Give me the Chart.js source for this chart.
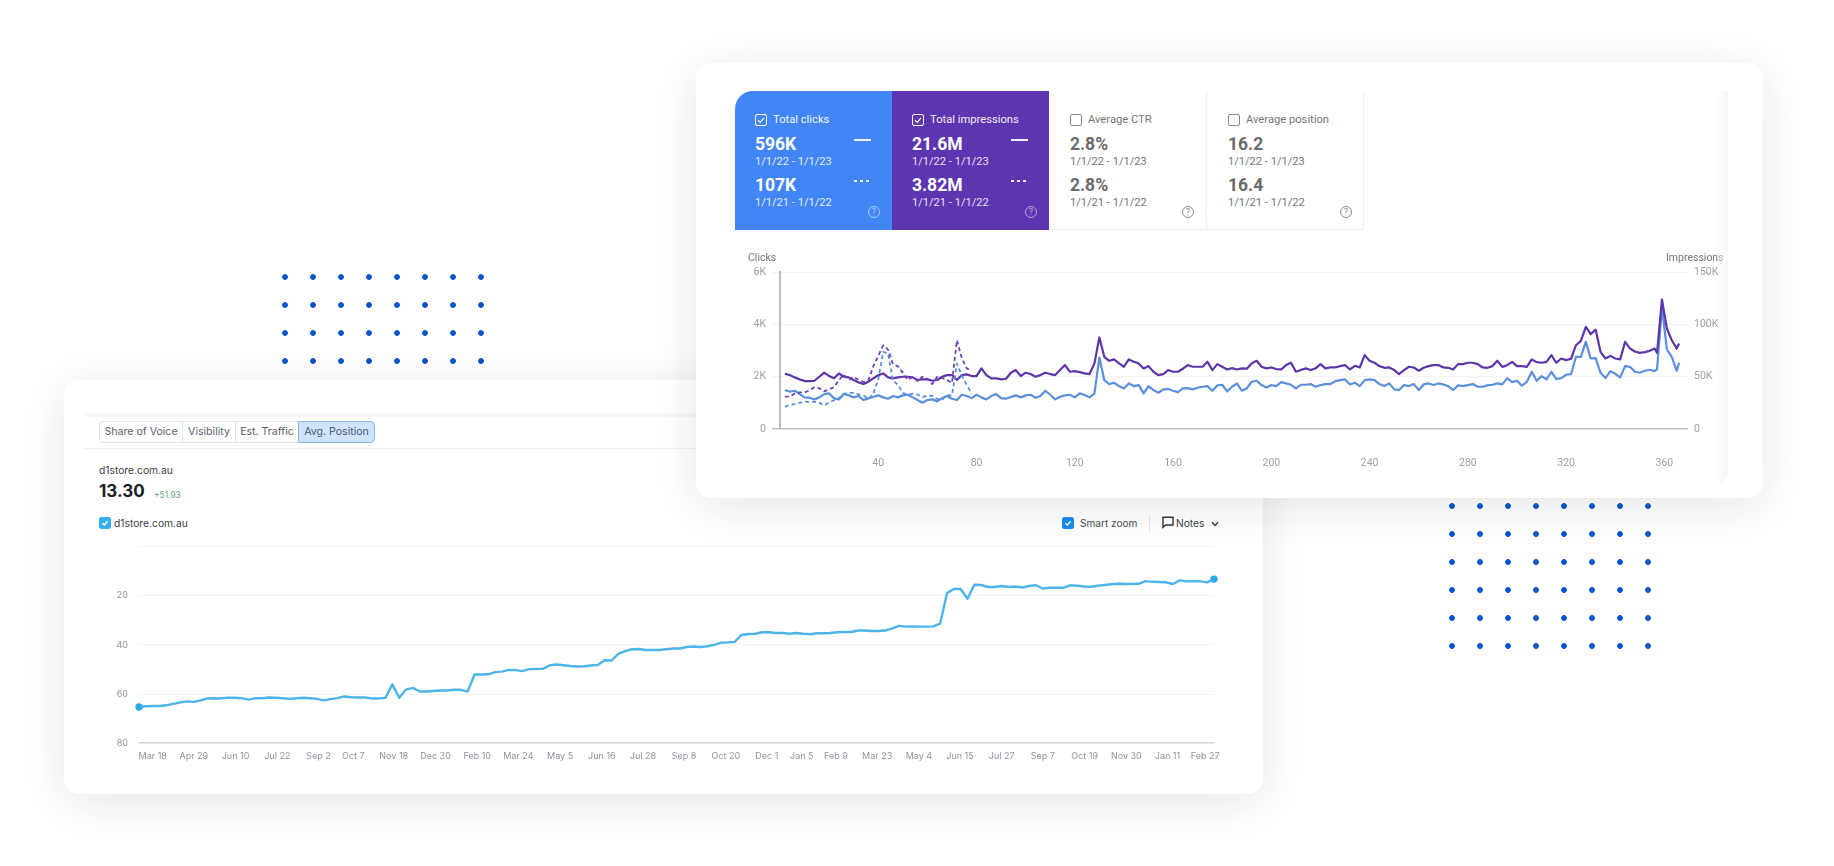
<!DOCTYPE html>
<html>
<head>
<meta charset="utf-8">
<title>Search performance</title>
<script src="https://cdn.jsdelivr.net/npm/chart.js@4/dist/chart.umd.min.js"></script>
<style>
  html, body { margin: 0; width: 1834px; height: 866px; background: #fff; overflow: hidden; }
  .abs, .abs * { box-sizing: border-box; }
  .abs { position: absolute; white-space: nowrap; }
  canvas { position: absolute; display: block; }
  .dots { background-image: radial-gradient(circle at center, #0a55cc 2.5px, rgba(10,85,204,0) 3.2px); background-size: 28px 28px; }
  .card { background: #fff; border-radius: 15px; box-shadow: 0 8px 46px rgba(30,30,40,.11); }
  #gsc { font-family: Roboto, sans-serif; }
  #rank { font-family: Inter, sans-serif; }
  .help { width: 12px; height: 12px; border-radius: 50%; border: 1px solid; font-size: 9px; line-height: 10px; text-align: center; }
  .tab { top: 41px; height: 22px; font-size: 10.6px; line-height: 20px; text-align: center; color: #5c626b; border: 1px solid #dfe2e6; }
</style>
</head>
<body>
<div class="abs dots" style="left:271px;top:263px;width:224px;height:112px"></div>
<div class="abs dots" style="left:1438px;top:492px;width:224px;height:168px"></div>

<div id="rank" class="abs card" style="left:64px;top:380px;width:1199px;height:414px"></div>
<div id="gsc" class="abs card" style="left:696px;top:63px;width:1067px;height:435px"></div>

<script>
// Search Console chart, every second day
const clicksThisYear = [
  1491,1427,1465,1338,1211,1198,1134,1211,1338,1363,1172,1134,1338,1287,1211,1262,1109,1172,1236,1287,1211,1160,1262,
  1211,1287,1312,1211,1109,1007,1109,1134,1058,1185,1262,1160,1109,1312,1262,1185,1312,1211,1134,1262,1338,1185,1160,
  1223,1287,1211,1287,1312,1198,1262,1465,1312,1134,1236,1287,1312,1211,1363,1300,1211,1363,2738,1873,1720,1771,1643,
  1554,1745,1643,1682,1363,1643,1491,1389,1516,1529,1465,1414,1554,1567,1516,1580,1618,1643,1465,1669,1694,1440,1618,1745,
  1465,1554,1809,1847,1682,1592,1682,1643,1796,1745,1694,1554,1694,1694,1720,1618,1682,1720,1720,1834,1873,1898,1707,
  1771,1643,1873,1898,1873,1720,1643,1745,1516,1491,1682,1643,1720,1491,1707,1745,1682,1745,1707,1643,1491,1669,1643,1682,
  1720,1618,1618,1669,1695,1746,1707,1949,1796,1847,1657,1809,2191,1847,2026,1898,2191,1911,1949,2077,
  2102,2764,2764,3337,2700,2713,2153,1949,2217,2115,1975,2408,2382,2191,2153,2229,2267,2217,2280,4674,3044,2764,2229,2535
];
const impressionsThisYear = [
  52.9,51.6,49.4,47.5,45.9,45.9,46.2,50,53.9,50.7,48.5,53.2,50,49.4,46.9,44.6,43,45.3,48.5,51.6,53.2,49.4,48.5,
  49.4,50,50,49.4,46.9,47.5,47.5,46.2,46.9,50,51.6,51.6,46.9,51.6,52.3,50.7,50.7,58,51.6,48.5,48.5,47.5,48.1,
  53.9,56.4,50.7,53.9,52.6,50,51.6,53.9,52.6,51.6,56.4,61.2,54.8,55.4,54.5,53.2,52.6,62.8,87.6,69.1,65.3,66.6,62.8,
  59.6,66.6,64.4,62.8,58,60.2,54.8,51.6,52.6,56.4,54.8,54.8,57.7,61.2,59.6,59.6,59.6,64.4,56.4,62.1,59.6,57,58.3,57,
  58,57.7,62.8,65.3,59.6,58,58.9,57.4,57,61.2,63.4,54.8,56.4,58,56.4,58,62.1,58,58.9,58.9,60.2,61.2,57,60.5,
  58.9,70.7,65.3,63.4,60.2,58.6,58.9,56.4,52.6,56.4,59.6,58.9,55.8,58.6,60.2,61.2,61.2,58.9,58.6,57,62.1,62.1,63.4,
  63.4,62.1,58.9,58.6,60.2,65.3,59.5,61.1,64.3,60.2,60.2,59.5,66.6,64,63.4,64.3,70.7,63.4,67.5,65.9,
  67.2,80.2,84.4,97.8,90.8,95.2,73.9,67.5,70,67.5,66.6,83.4,77,74.2,72.9,73.6,74.8,77,72.9,123.9,96.2,85,77,81.8
];
const clicksLastYear = [
  850,930,950,1000,1050,1030,1050,1000,900,1020,1100,1180,1350,1380,1380,1330,1280,1150,1350,1900,
  2950,2900,1850,1700,1380,1320,1350,1320,1220,1280,1270,1150,1120,1300,1280,2500,2050,1700,1350
];
const impressionsLastYear = [
  31,31,34,35,35,37,40,39,36,38,40,47,52,47,50,47,45,47,60,70,
  80,76,62,60,54,47,50,46,50,48,43,50,49,47,44,85,68,58,56
];
const dayTicks = [40,80,120,160,200,240,280,320,360];
const clickTicks = [0,2000,4000,6000];
const impressionTicks = [0,50,100,150];

// Rank tracker chart
const avgPosition = [
  65.3,65,64.9,64.9,64.6,64,63.4,63,63.2,62.6,61.8,61.7,61.8,61.5,61.5,61.7,62.3,61.7,61.7,61.4,61.5,61.7,62,61.7,61.5,
  61.7,62,62.6,62.1,61.7,61,61.3,61.4,61.4,61.8,61.8,61.5,56.1,61.5,58.2,57.5,59,59,58.8,58.6,58.6,58.3,58.3,59,52.1,
  52.1,52,51.1,50.9,50.2,50.3,50.7,49.9,49.8,49.8,48.3,48,48.3,48.6,48.8,48.7,48.4,48.2,46.3,46.4,43.7,42.6,41.8,41.7,42.1,
  42.1,42.1,41.8,41.5,41.5,40.9,40.7,40.9,40.6,40,39.1,39,38.8,36,35.6,35.5,34.9,34.9,35.2,35.2,
  35.5,35.2,35.5,35.7,35.3,35.3,35.2,34.9,34.8,34.8,34.2,34.2,34.4,34.4,34.2,33.3,32.3,32.6,32.5,32.6,
  32.6,32.5,31.4,19,17.3,17.3,21.3,15.6,15.7,16.5,16.5,16.1,16.5,16.3,16.7,16.1,15.8,17.1,16.8,16.8,
  16.8,15.8,16,16.3,16.4,16,15.7,15.4,15.2,15.3,15.3,15.2,14.1,14.4,14.5,14.6,15.3,13.8,14.2,14.1,14.2,14.6,13.3
];
const rankLabels = ['Mar 18','Apr 29','Jun 10','Jul 22','Sep 2','Oct 7','Nov 18','Dec 30','Feb 10','Mar 24','May 5','Jun 16','Jul 28','Sep 8',
  'Oct 20','Dec 1','Jan 5','Feb 9','Mar 23','May 4','Jun 15','Jul 27','Sep 7','Oct 19','Nov 30','Jan 11','Feb 27'];
const rankTickSteps = [2,8,14.1,20.2,26.2,31.3,37.2,43.3,49.4,55.4,61.5,67.6,73.6,79.6,85.7,91.7,96.8,101.8,107.8,113.9,119.9,126,132,138.1,144.2,150.2,155.7];
const rankTicks = [0,20,40,60,80];

const tileNames = ['Total clicks','Total impressions','Average CTR','Average position'];
const tileThisYear = ['596K','21.6M','2.8%','16.2'];
const tileLastYear = ['107K','3.82M','2.8%','16.4'];
const rangeThisYear = '1/1/22 - 1/1/23';
const rangeLastYear = '1/1/21 - 1/1/22';

function add(parent, css, text) {
  const el = document.createElement('div');
  el.className = 'abs';
  el.style.cssText = css;
  if (text !== undefined) el.textContent = text;
  parent.appendChild(el);
  return el;
}

// positions below are page pixels, so shift them by the card corner
const gsc = document.getElementById('gsc');
const gx = x => x - 696, gy = y => y - 63;
const tileLeft = [735, 892, 1049, 1207];
const tileWidth = [157, 157, 158, 157];
const tileBg = ['#4285f4', '#5e35b1', '#fff', '#fff'];

tileNames.forEach((name, i) => {
  const on = i < 2;
  const fg = on ? '#fff' : '#757575';
  const L = tileLeft[i];
  const box = `left:${gx(L)}px;top:${gy(91)}px;width:${tileWidth[i]}px;height:139px;background:${tileBg[i]};`;
  add(gsc, box + (i === 0 ? 'border-top-left-radius:18px;' : '') + (on ? '' : 'border-right:1px solid #eee;border-bottom:1px solid #eee;'));
  const tx = L + (on ? 20 : 21);
  const cb = add(gsc, `left:${gx(tx)}px;top:${gy(114)}px;width:12px;height:12px;border:1px solid ${on ? '#fff' : '#8a8a8a'};border-radius:2px;`);
  if (on) cb.innerHTML = '<svg width="10" height="10" viewBox="0 0 10 10" style="display:block"><path d="M2 5.2 L4.2 7.4 L8 2.8" fill="none" stroke="#fff" stroke-width="1.1"/></svg>';
  add(gsc, `left:${gx(tx + 18)}px;top:${gy(113)}px;font-size:11.2px;line-height:14px;color:${on ? '#fff' : '#757575'};opacity:${on ? .92 : 1}`, name);
  add(gsc, `left:${gx(tx)}px;top:${gy(134)}px;font-size:17.5px;line-height:20px;font-weight:700;color:${on ? '#fff' : '#6a6a6a'}`, tileThisYear[i]);
  add(gsc, `left:${gx(tx)}px;top:${gy(155)}px;font-size:11.1px;line-height:14px;color:${fg};opacity:${on ? .85 : 1}`, rangeThisYear);
  add(gsc, `left:${gx(tx)}px;top:${gy(175)}px;font-size:17.5px;line-height:20px;font-weight:700;color:${on ? '#fff' : '#6a6a6a'}`, tileLastYear[i]);
  add(gsc, `left:${gx(tx)}px;top:${gy(196)}px;font-size:11.1px;line-height:14px;color:${fg};opacity:${on ? .85 : 1}`, rangeLastYear);
  if (on) {
    add(gsc, `left:${gx(L + 119)}px;top:${gy(139)}px;width:17px;height:2px;background:#fff;opacity:.9`);
    add(gsc, `left:${gx(L + 119)}px;top:${gy(180)}px;width:17px;height:2px;background-image:linear-gradient(to right,#fff 3px,transparent 3px);background-size:6px 2px;opacity:.9`);
  }
  const h = add(gsc, `left:${gx(L + 133)}px;top:${gy(206)}px;color:${on ? 'rgba(255,255,255,.55)' : '#8a8a8a'}`, '?');
  h.classList.add('help');
});

add(gsc, `left:${gx(748)}px;top:${gy(251)}px;font-size:10.5px;line-height:14px;color:#757575`, 'Clicks');
add(gsc, `left:${gx(1666)}px;top:${gy(251)}px;font-size:10.5px;line-height:14px;color:#757575`, 'Impressions');
// soft right edge of the inner panel
add(gsc, `left:${gx(1690)}px;top:${gy(91)}px;width:38px;height:396px;border-bottom-right-radius:16px;background:linear-gradient(to right,rgba(240,241,243,0) 70%,#f4f5f6 100%);`);

// y axis labels reserve half their height plus tick padding above the plot, so the canvas starts higher
const gscCanvas = document.createElement('canvas');
gscCanvas.width = 998; gscCanvas.height = 215;
gscCanvas.style.left = gx(730) + 'px'; gscCanvas.style.top = gy(260) + 'px';
gsc.appendChild(gscCanvas);

// last week of the year is sampled on odd days so the spike lands in the right place
const sampleDay = i => Math.min(i < 178 ? 2 * i + 2 : 2 * i + 1, 366);
const toPoints = arr => arr.map((v, i) => ({ x: sampleDay(i), y: v }));

const GREY = '#9e9e9e';
const smallFont = { family: 'Roboto', size: 10.5 };

new Chart(gscCanvas, {
  type: 'line',
  data: {
    datasets: [
      { label: 'Impressions 1/1/21 - 1/1/22', yAxisID: 'y2', data: toPoints(impressionsLastYear), borderColor: '#6a42b4', borderWidth: 1.8, borderDash: [4, 3], borderJoinStyle: 'round', pointRadius: 0, tension: 0 },
      { label: 'Clicks 1/1/21 - 1/1/22', yAxisID: 'y', data: toPoints(clicksLastYear), borderColor: '#5b8fdc', borderWidth: 1.8, borderDash: [4, 3], borderJoinStyle: 'round', pointRadius: 0, tension: 0 },
      { label: 'Impressions 1/1/22 - 1/1/23', yAxisID: 'y2', data: toPoints(impressionsThisYear), borderColor: '#5e35a8', borderWidth: 2.2, borderJoinStyle: 'round', pointRadius: 0, tension: 0 },
      { label: 'Clicks 1/1/22 - 1/1/23', yAxisID: 'y', data: toPoints(clicksThisYear), borderColor: '#5b8fdc', borderWidth: 2.2, borderJoinStyle: 'round', pointRadius: 0, tension: 0 }
    ]
  },
  options: {
    responsive: false,
    animation: false,
    plugins: { legend: { display: false }, tooltip: { enabled: false } },
    scales: {
      x: {
        type: 'linear', min: 0, max: 369.6,
        afterBuildTicks: s => { s.ticks = dayTicks.map(v => ({ value: v })); },
        afterFit: s => { s.height = 46; },
        grid: { display: false },
        border: { display: false },
        ticks: { color: GREY, font: smallFont, padding: 20.5, maxRotation: 0, autoSkip: false }
      },
      y: {
        position: 'left', min: 0, max: 6000,
        afterBuildTicks: s => { s.ticks = clickTicks.map(v => ({ value: v })); },
        afterFit: s => { s.width = 50; },
        grid: {
          color: c => c.tick && c.tick.value === 0 ? '#bdbdbd' : '#f3f3f3',
          lineWidth: c => c.tick && c.tick.value === 0 ? 1.5 : 1,
          tickLength: 8,
          tickColor: c => c.tick && c.tick.value === 0 ? '#bdbdbd' : '#f3f3f3'
        },
        border: { color: '#bdbdbd', width: 2 },
        ticks: { color: GREY, font: smallFont, padding: 6, callback: v => v ? v / 1000 + 'K' : '0' }
      },
      y2: {
        position: 'right', min: 0, max: 150,
        afterBuildTicks: s => { s.ticks = impressionTicks.map(v => ({ value: v })); },
        afterFit: s => { s.width = 40; },
        grid: { drawOnChartArea: false, drawTicks: false },
        border: { display: false },
        ticks: { color: GREY, font: smallFont, padding: 6, callback: v => v ? v + 'K' : '0' }
      }
    }
  }
});

// lower card
const rank = document.getElementById('rank');
const rx = x => x - 64, ry = y => y - 380;
add(rank, `left:${rx(84)}px;top:${ry(413)}px;width:1179px;height:4px;background:#f6f7f8`);
add(rank, `left:${rx(84)}px;top:${ry(448)}px;width:1179px;height:1px;background:#f1f2f4`);

const tabNames = ['Share of Voice', 'Visibility', 'Est. Traffic', 'Avg. Position'];
const tabLeft = [99, 182, 235, 298];
const tabRight = [182, 235, 298, 374];
tabNames.forEach((name, i) => {
  const active = i === 3;
  add(rank, `left:${rx(tabLeft[i])}px;width:${tabRight[i] - tabLeft[i] + 1}px;` +
    (i === 0 ? 'border-radius:4px 0 0 4px;' : '') + (active ? 'background:#cfe4fb;border-color:#8fb6de;border-radius:0 4px 4px 0;color:#3f5d7d;' : ''), name).classList.add('tab');
});

add(rank, `left:${rx(99)}px;top:${ry(463)}px;font-size:10.3px;line-height:14px;color:#3d4148`, 'd1store.com.au');
add(rank, `left:${rx(99)}px;top:${ry(481)}px;font-size:17px;line-height:21px;font-weight:700;color:#1b1e23`, '13.30');
add(rank, `left:${rx(154)}px;top:${ry(489)}px;font-size:8.4px;line-height:12px;color:#5aa77c`, '+51.93');

function tick(left, top, bg) {
  const b = add(rank, `left:${rx(left)}px;top:${ry(top)}px;width:11.5px;height:11.5px;border-radius:2.5px;background:${bg}`);
  b.innerHTML = '<svg width="12" height="12" viewBox="0 0 12 12" style="display:block"><path d="M3.4 6.2 L5.3 8 L8.6 4.2" fill="none" stroke="#fff" stroke-width="1.3"/></svg>';
}
tick(99, 517, '#35b0ee');
add(rank, `left:${rx(114)}px;top:${ry(516)}px;font-size:10.3px;line-height:14px;color:#3d4148`, 'd1store.com.au');
tick(1062, 517, '#1a8cf0');
add(rank, `left:${rx(1080)}px;top:${ry(516)}px;font-size:10.1px;line-height:14px;color:#4a4f57`, 'Smart zoom');
add(rank, `left:${rx(1149)}px;top:${ry(516)}px;width:1px;height:16px;background:#e4e5e7`);
const noteIcon = add(rank, `left:${rx(1162)}px;top:${ry(516)}px;width:12px;height:13px`);
noteIcon.innerHTML = '<svg width="12" height="13" viewBox="0 0 12 13" style="display:block"><path d="M1 1.2 H11 V9 H3.4 L1 11.4 Z" fill="none" stroke="#33373d" stroke-width="1.4"/></svg>';
add(rank, `left:${rx(1176)}px;top:${ry(516)}px;font-size:10.2px;line-height:14px;color:#3d4148`, 'Notes');
const chevron = add(rank, `left:${rx(1211)}px;top:${ry(521)}px;width:8px;height:6px`);
chevron.innerHTML = '<svg width="8" height="6" viewBox="0 0 8 6" style="display:block"><path d="M1 1.2 L4 4.4 L7 1.2" fill="none" stroke="#33373d" stroke-width="1.4"/></svg>';

const rankCanvas = document.createElement('canvas');
rankCanvas.width = 1141; rankCanvas.height = 244;
rankCanvas.style.left = rx(89) + 'px'; rankCanvas.style.top = ry(530) + 'px';
rank.appendChild(rankCanvas);

const rankFont = { family: 'Inter', size: 9 };
const lastStep = avgPosition.length - 1;

new Chart(rankCanvas, {
  type: 'line',
  data: {
    datasets: [{
      label: 'd1store.com.au',
      data: avgPosition.map((v, i) => ({ x: i, y: v })),
      borderColor: '#4db4e8',
      borderWidth: 2.4,
      borderJoinStyle: 'round',
      tension: 0,
      clip: false,
      pointBackgroundColor: '#2fa9ee',
      pointBorderWidth: 0,
      pointRadius: c => (c.dataIndex === 0 || c.dataIndex === lastStep) ? 3.7 : 0
    }]
  },
  options: {
    responsive: false,
    animation: false,
    layout: { padding: { top: 16, right: 16 } },
    plugins: { legend: { display: false }, tooltip: { enabled: false } },
    scales: {
      x: {
        type: 'linear', min: 0, max: lastStep,
        afterBuildTicks: s => { s.ticks = rankTickSteps.map(v => ({ value: v })); },
        afterFit: s => { s.height = 30.8; },
        grid: { display: false },
        border: { display: false },
        ticks: {
          color: '#8d939c', font: rankFont, padding: 0, maxRotation: 0, autoSkip: false,
          callback: (v, i) => rankLabels[i]
        }
      },
      y: {
        reverse: true, min: 0, max: 80,
        afterBuildTicks: s => { s.ticks = rankTicks.map(v => ({ value: v })); },
        afterFit: s => { s.width = 50; },
        grid: {
          drawTicks: false,
          color: c => c.tick && c.tick.value === 80 ? '#cfd1d4' : '#f2f3f4',
          lineWidth: c => c.tick && c.tick.value === 80 ? 1.5 : 1
        },
        border: { display: false },
        ticks: { color: '#8d939c', font: rankFont, padding: 11, callback: v => v ? String(v) : '' }
      }
    }
  }
});
</script>
</body>
</html>
